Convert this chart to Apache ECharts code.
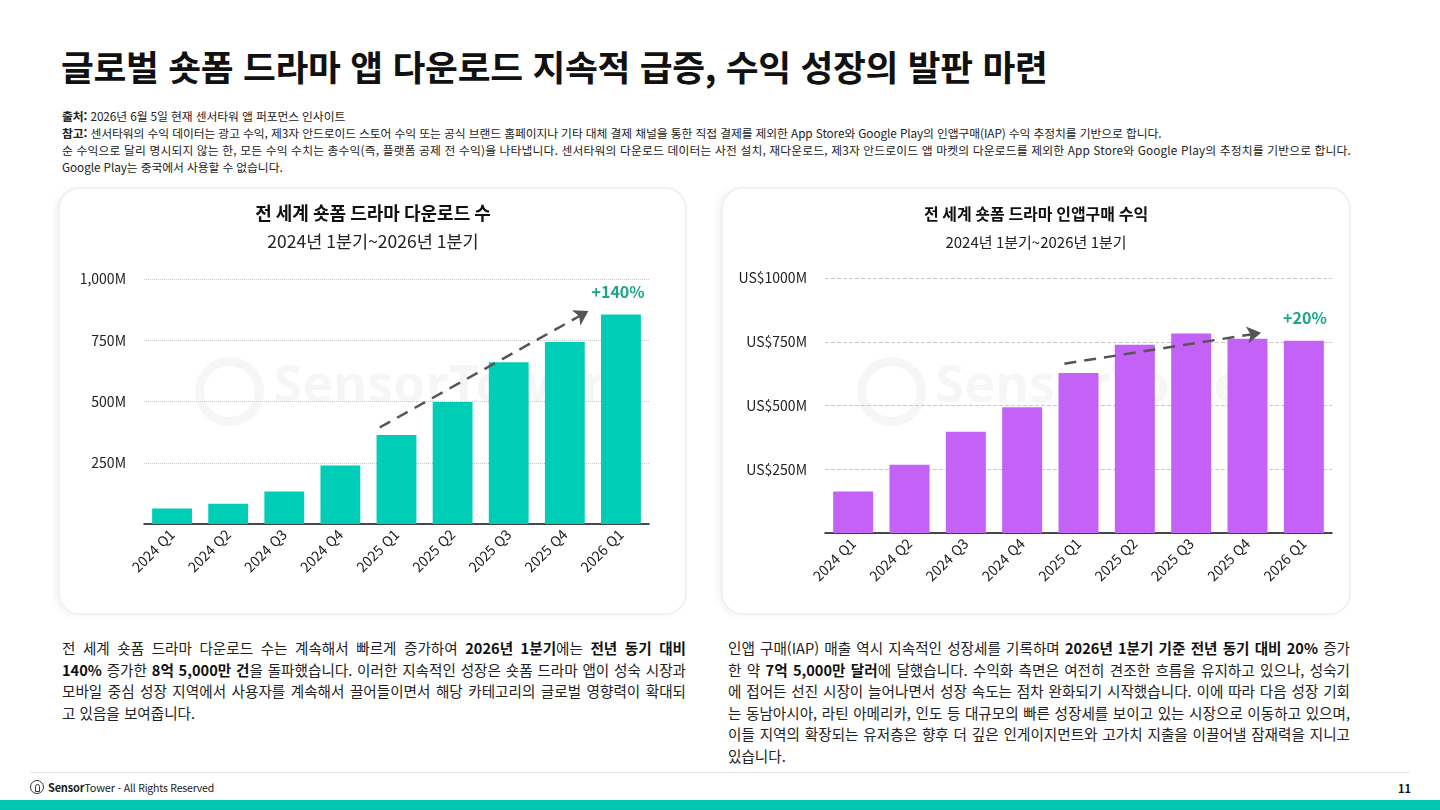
<!DOCTYPE html>
<html lang="ko">
<head>
<meta charset="utf-8">
<script src="https://cdn.jsdelivr.net/npm/echarts@6/dist/echarts.min.js"></script>
<style>
  html, body { margin:0; padding:0; background:#fff; }
  body { width:1440px; height:810px; position:relative; overflow:hidden;
         font-family:"Noto Sans CJK KR","Noto Sans",sans-serif; color:#111; }
  .title { position:absolute; left:61px; top:40px; font-size:35.7px; font-weight:700; letter-spacing:-0.3px; white-space:nowrap; }
  .notes { position:absolute; left:62px; top:107px; font-size:11.8px; line-height:17px; color:#222; white-space:nowrap; letter-spacing:-0.1px; }
  .notes b { font-weight:700; }
  .card { position:absolute; top:187px; height:428px; background:#fff; border-radius:22px;
          border:2px solid #f1f1f1; box-shadow:-3px 1px 6px rgba(0,0,0,0.05); box-sizing:border-box; }
  .chart { position:absolute; top:187px; height:428px; }
  .para { position:absolute; top:637px; font-size:14.6px; line-height:21.6px; color:#222; }
  .para .ln { text-align:justify; text-align-last:justify; }
  .para .last { text-align:left; text-align-last:left; }
  .para b { font-weight:700; color:#111; }
  .sep { position:absolute; left:30px; top:772px; width:1380px; height:1px; background:#e6e6e6; }
  .footer { position:absolute; left:30px; top:779px; font-size:10.5px; color:#222; display:flex; align-items:center; white-space:nowrap; letter-spacing:-0.2px; }
  .logo { width:14px; height:14px; border:1.6px solid #333; border-radius:50%; box-sizing:border-box; margin-right:4px; position:relative; }
  .logo:after { content:""; position:absolute; left:4px; top:3px; width:3px; height:6px; border:1.3px solid #333; border-radius:3px 3px 0 0; }
  .pnum { position:absolute; left:1398px; top:780px; font-size:11px; font-weight:700; color:#111; }
  .band { position:absolute; left:0; top:800px; width:1440px; height:10px; background:#00C7B0; }
</style>
</head>
<body>
<div class="title">글로벌 숏폼 드라마 앱 다운로드 지속적 급증, 수익 성장의 발판 마련</div>
<div class="notes">
  <div><b>출처:</b> 2026년 6월 5일 현재 센서타워 앱 퍼포먼스 인사이트</div>
  <div><b>참고:</b> 센서타워의 수익 데이터는 광고 수익, 제3자 안드로이드 스토어 수익 또는 공식 브랜드 홈페이지나 기타 대체 결제 채널을 통한 직접 결제를 제외한 App Store와 Google Play의 인앱구매(IAP) 수익 추정치를 기반으로 합니다.</div>
  <div style="letter-spacing:0.15px">순 수익으로 달리 명시되지 않는 한, 모든 수익 수치는 총수익(즉, 플랫폼 공제 전 수익)을 나타냅니다. 센서타워의 다운로드 데이터는 사전 설치, 재다운로드, 제3자 안드로이드 앱 마켓의 다운로드를 제외한 App Store와 Google Play의 추정치를 기반으로 합니다.</div>
  <div>Google Play는 중국에서 사용할 수 없습니다.</div>
</div>

<div class="card" style="left:58px;width:629px;"></div>
<div class="card" style="left:721px;width:630px;"></div>
<div id="c1" class="chart" style="left:60px;width:626px;"></div>
<div id="c2" class="chart" style="left:722px;width:628px;"></div>

<div class="para" style="left:62px;width:624px;">
  <div class="ln">전 세계 숏폼 드라마 다운로드 수는 계속해서 빠르게 증가하여 <b>2026년 1분기</b>에는 <b>전년 동기 대비</b></div>
  <div class="ln"><b>140%</b> 증가한 <b>8억 5,000만 건</b>을 돌파했습니다. 이러한 지속적인 성장은 숏폼 드라마 앱이 성숙 시장과</div>
  <div class="ln">모바일 중심 성장 지역에서 사용자를 계속해서 끌어들이면서 해당 카테고리의 글로벌 영향력이 확대되</div>
  <div class="ln last">고 있음을 보여줍니다.</div>
</div>
<div class="para" style="left:728px;width:622px;">
  <div class="ln">인앱 구매(IAP) 매출 역시 지속적인 성장세를 기록하며 <b>2026년 1분기 기준 전년 동기 대비 20%</b> 증가</div>
  <div class="ln">한 약 <b>7억 5,000만 달러</b>에 달했습니다. 수익화 측면은 여전히 견조한 흐름을 유지하고 있으나, 성숙기</div>
  <div class="ln">에 접어든 선진 시장이 늘어나면서 성장 속도는 점차 완화되기 시작했습니다. 이에 따라 다음 성장 기회</div>
  <div class="ln">는 동남아시아, 라틴 아메리카, 인도 등 대규모의 빠른 성장세를 보이고 있는 시장으로 이동하고 있으며,</div>
  <div class="ln">이들 지역의 확장되는 유저층은 향후 더 깊은 인게이지먼트와 고가치 지출을 이끌어낼 잠재력을 지니고</div>
  <div class="ln last">있습니다.</div>
</div>

<div class="sep"></div>
<div class="footer"><span class="logo"></span><b style="font-size:11px">Sensor</b><span style="font-size:11px">Tower</span>&nbsp;- All Rights Reserved</div>
<div class="pnum">11</div>
<div class="band"></div>

<script>
// ---- data ----
const categories = ['2024 Q1','2024 Q2','2024 Q3','2024 Q4','2025 Q1','2025 Q2','2025 Q3','2025 Q4','2026 Q1'];
const downloads = [63, 83, 133, 239, 363, 498, 660, 743, 855];      // millions
const revenue   = [163, 268, 397, 493, 627, 738, 782, 762, 754];    // US$ millions
const downloadTicks = {1000:'1,000M', 750:'750M', 500:'500M', 250:'250M'};
const revenueTicks  = {1000:'US$1000M', 750:'US$750M', 500:'US$500M', 250:'US$250M'};
const downloadTrend = [[3.7, 394], [7.42, 869]];   // [category position, value]
const revenueTrend  = [[3.75, 664], [7.24, 785]];
const downloadGrowth = {label:'+140%', at:[7.95, 947]};
const revenueGrowth  = {label:'+20%',  at:[8.02, 844]};

const FONT = '"Noto Sans CJK KR","Noto Sans",sans-serif';

function makeOption(cfg) {
  return {
    animation:false,
    textStyle:{fontFamily:FONT},
    title:[
      {text:cfg.title, left:'center', top:cfg.titleTop, textStyle:{fontSize:cfg.titleSize, fontWeight:700, color:'#111', fontFamily:FONT}},
      {text:'2024년 1분기~2026년 1분기', left:'center', top:cfg.subTop, textStyle:{fontSize:cfg.subSize, fontWeight:400, color:'#222', fontFamily:FONT}}
    ],
    graphic:[
      {type:'group', left:cfg.wmLeft, top:170, z:0, silent:true, children:[
        {type:'circle', shape:{cx:32, cy:32, r:30}, style:{fill:'none', stroke:'rgba(0,0,0,0.035)', lineWidth:9}},
        {type:'text', left:76, top:2, style:{text:'SensorTower', font:'bold 52px "Noto Sans", sans-serif', fill:'rgba(0,0,0,0.035)'}}
      ]}
    ],
    grid:{left:cfg.gridLeft, width:cfg.gridWidth, top:cfg.gridTop, height:cfg.gridHeight},
    xAxis:[
      {type:'category', data:categories,
       axisLine:{lineStyle:{color:'#111', width:1.5}}, axisTick:{show:false},
       axisLabel:{rotate:45, fontSize:14, color:'#222', margin:8, fontFamily:FONT}},
      {type:'value', min:-0.5, max:8.5, show:false}
    ],
    yAxis:{type:'value', min:0, max:1000, interval:250,
       axisLine:{show:false}, axisTick:{show:false},
       splitLine:{lineStyle:{color:'#c8c8c8', type:cfg.gridType, width:1}},
       axisLabel:{fontSize:14, color:'#222', margin:cfg.labelMargin, fontFamily:FONT,
                  formatter:v => cfg.ticks[v] || ''}},
    series:[
      {type:'bar', data:cfg.values, barWidth:'71%', itemStyle:{color:cfg.color}, z:2},
      {type:'line', xAxisIndex:1, data:cfg.trend, showSymbol:false, lineStyle:{opacity:0}, z:3,
       markLine:{silent:true, symbol:['none','arrow'], symbolSize:[13,14],
         lineStyle:{color:'#555', width:2.5, type:[12,8]}, label:{show:false},
         data:[[{coord:cfg.trend[0]}, {coord:cfg.trend[1]}]]},
       markPoint:{silent:true, symbol:'circle', symbolSize:0,
         label:{show:true, position:'inside', formatter:cfg.growth.label, color:'#1BA68A', fontSize:16, fontWeight:700, fontFamily:FONT},
         data:[{coord:cfg.growth.at}]}}
    ]
  };
}

const c1 = echarts.init(document.getElementById('c1'), null, {renderer:'canvas'});
c1.setOption(makeOption({
  title:'전 세계 숏폼 드라마 다운로드 수', values:downloads, color:'#00CDB5',
  ticks:downloadTicks, trend:downloadTrend, growth:downloadGrowth,
  titleTop:12, titleSize:18, subTop:41, subSize:17.5,
  gridLeft:84, gridWidth:505, gridTop:92, gridHeight:245, gridType:'dotted', labelMargin:18, wmLeft:135
}));
const c2 = echarts.init(document.getElementById('c2'), null, {renderer:'canvas'});
c2.setOption(makeOption({
  title:'전 세계 숏폼 드라마 인앱구매 수익', values:revenue, color:'#C462F7',
  ticks:revenueTicks, trend:revenueTrend, growth:revenueGrowth,
  titleTop:14, titleSize:16, subTop:43, subSize:15,
  gridLeft:103, gridWidth:507, gridTop:91, gridHeight:255, gridType:'dashed', labelMargin:18, wmLeft:135
}));
</script>
</body>
</html>
